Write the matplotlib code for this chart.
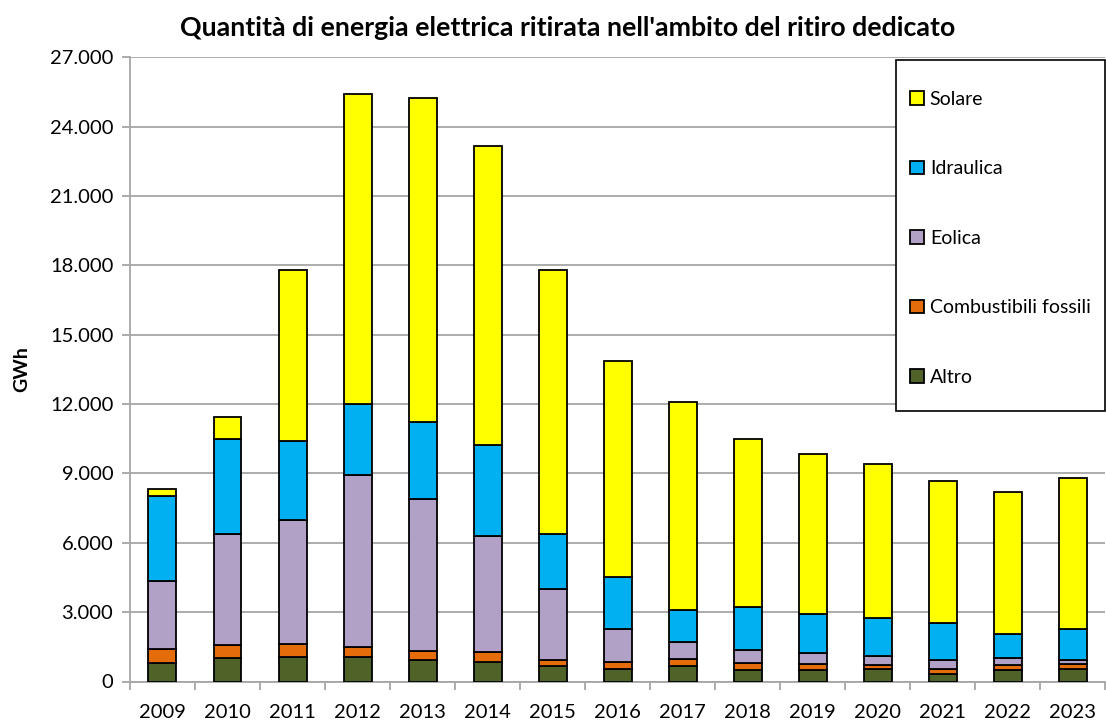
import numpy as np
from matplotlib import pyplot as plt
from matplotlib.patches import Rectangle
from matplotlib.ticker import FuncFormatter, FixedLocator

plt.rcParams['font.family'] = ['Lato', 'DejaVu Sans']

anni = ['2009', '2010', '2011', '2012', '2013', '2014', '2015', '2016',
        '2017', '2018', '2019', '2020', '2021', '2022', '2023']

# GWh
altro = [800, 1010, 1080, 1080, 920, 840, 650, 530, 650, 490, 490, 530, 330, 490, 530]
fossili = [610, 580, 550, 410, 380, 440, 300, 330, 320, 310, 280, 190, 230, 240, 220]
eolica = [2940, 4780, 5360, 7460, 6580, 5010, 3070, 1410, 720, 580, 480, 380, 380, 280, 170]
idraulica = [3690, 4120, 3420, 3070, 3350, 3940, 2360, 2230, 1420, 1860, 1660, 1650, 1600, 1050, 1340]
solare = [270, 960, 7400, 13390, 14020, 12940, 11400, 9360, 8980, 7240, 6920, 6640, 6150, 6150, 6560]

serie = [
    ('Altro', altro, '#4F6228'),
    ('Combustibili fossili', fossili, '#E46C0A'),
    ('Eolica', eolica, '#B2A1C7'),
    ('Idraulica', idraulica, '#00B0F0'),
    ('Solare', solare, '#FFFF00'),
]

fig = plt.figure(figsize=(11.06, 7.25), dpi=100)
ax = fig.add_axes([0.1175, 0.06, 0.882, 0.861])

x = np.arange(len(anni))
base = np.zeros(len(anni))
barre = []
for nome, valori, colore in serie:
    b = ax.bar(x, valori, 0.43, bottom=base, color=colore, edgecolor='black',
               linewidth=1.3, label=nome, zorder=3)
    barre.append(b)
    base += np.array(valori)

ax.set_xlim(-0.5, len(anni) - 0.5)
ax.set_ylim(0, 27000)
ax.set_yticks(range(0, 27001, 3000))
ax.yaxis.set_major_formatter(FuncFormatter(lambda v, p: f'{int(v):,}'.replace(',', '.')))
ax.grid(axis='y', color='#A6A6A6', linewidth=1.3, zorder=0)

ax.set_xticks(x)
ax.set_xticklabels(anni)
ax.xaxis.set_minor_locator(FixedLocator(np.arange(-0.5, len(anni), 1)))
ax.tick_params(axis='x', which='major', length=0, labelsize=14.5, pad=16)
ax.tick_params(axis='x', which='minor', length=6, color='#A6A6A6', width=1.3)
ax.tick_params(axis='y', length=6, color='#A6A6A6', width=1.3, labelsize=14.5, pad=6)

for lato in ['top', 'right']:
    ax.spines[lato].set_visible(False)
for lato in ['left', 'bottom']:
    ax.spines[lato].set_color('#A6A6A6')
    ax.spines[lato].set_linewidth(1.3)

ax.set_ylabel('GWh', fontsize=14, fontweight='bold', labelpad=14)
fig.text(0.513, 0.962, "Quantità di energia elettrica ritirata nell'ambito del ritiro dedicato",
         fontsize=19.3, fontweight='bold', ha='center', va='center')

# cornice della legenda
ax.add_patch(Rectangle((0.785, 0.433), 0.215, 0.562, transform=ax.transAxes,
                       facecolor='white', edgecolor='black', linewidth=1.2,
                       zorder=4, clip_on=False))
leg = ax.legend(barre[::-1], [s[0] for s in serie][::-1], loc='upper left',
                bbox_to_anchor=(0.800, 0.946), fontsize=14, labelspacing=2.7,
                handlelength=0.7, handleheight=0.7, handletextpad=0.3,
                borderpad=0, borderaxespad=0, frameon=False)
leg.set_zorder(5)

plt.savefig('out.png', dpi=100)
